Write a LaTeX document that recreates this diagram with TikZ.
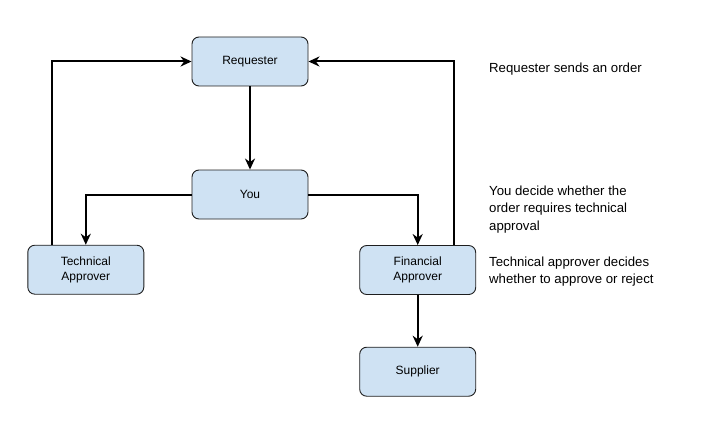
\documentclass[tikz,border=0pt]{standalone}
\usepackage{fontspec}
\setmainfont{Liberation Sans}
\usetikzlibrary{arrows.meta}
\definecolor{boxfill}{RGB}{207,226,243}
\definecolor{boxline}{RGB}{30,30,30}
\tikzset{
  box/.style={draw=boxline, fill=boxfill, line width=0.9pt, rounded corners=7pt,
    minimum width=116pt, minimum height=49pt, inner sep=0pt, align=center,
    font=\fontsize{12pt}{14.5pt}\selectfont},
  flow/.style={line width=2pt, black, -{Stealth[length=11pt,width=10pt,inset=3.5pt]}},
  note/.style={inner sep=0pt, align=left, font=\fontsize{13.2pt}{17.5pt}\selectfont}
}
\begin{document}
\begin{tikzpicture}[x=1pt,y=-1pt]
\useasboundingbox (0,0) rectangle (701,441);
\node[box] (req) at (250,61.5) {Requester};
\node[box] (you) at (250,194.5) {You};
\node[box] (tech) at (85.8,269.7) {Technical\\Approver};
\node[box] (fin) at (417.7,270) {Financial\\Approver};
\node[box] (sup) at (417.7,371.7) {Supplier};

\draw[flow] (req.south) -- (you.north);
\draw[flow] (you.west) -| (tech.north);
\draw[flow] (you.east) -| (fin.north);
\draw[flow] ([xshift=-33.5pt]tech.north) |- (req.west);
\draw[flow] ([xshift=36pt]fin.north) |- (req.east);
\draw[flow] (fin.south) -- (sup.north);

\node[note, anchor=west] (n1) at (489,69.5) {Requester sends an order};
\node[note, anchor=west] (n2) at (489,209.5) {You decide whether the\\order requires technical\\approval};
\node[note, anchor=west] (n3) at (489,271.5) {Technical approver decides\\whether to approve or reject};
\end{tikzpicture}
\end{document}
